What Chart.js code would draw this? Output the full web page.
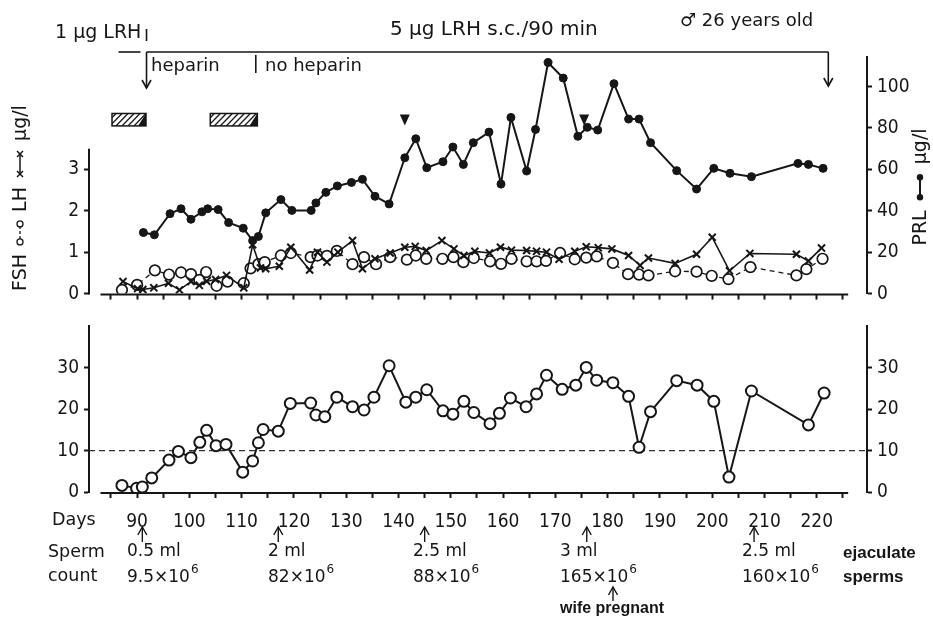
<!DOCTYPE html>
<html>
<head>
<meta charset="utf-8">
<script src="https://cdn.jsdelivr.net/npm/chart.js@4.4.1/dist/chart.umd.min.js"></script>
<style>
  html, body { margin: 0; padding: 0; background: #fff; }
  #wrap { position: relative; width: 933px; height: 626px; }
  canvas { position: absolute; left: 0; }
  #upper { top: 0; }
  #lower { top: 310px; }
</style>
</head>
<body>
<div id="wrap">
  <canvas id="upper" width="933" height="310"></canvas>
  <canvas id="lower" width="933" height="316"></canvas>
</div>
<script>
// ---- data (days of treatment) ----
const prlDays = [91.2, 93.3, 96.3, 98.4, 100.3, 102.4, 103.5, 105.5, 107.5, 110.3, 112.1, 113.2, 114.6, 117.5, 119.6, 123.3, 124.2, 126.1, 128.3, 131, 133.1, 135.5, 138.2, 141.2, 143.3, 145.4, 148.5, 150.4, 152.4, 154.3, 157.3, 159.6, 161.5, 164.5, 166.2, 168.6, 171.5, 174.3, 176.1, 178.1, 181.2, 184, 186, 188.2, 193.2, 197, 200.3, 203.4, 207.5, 216.4, 218.4, 221.2];
const prlValues = [29.5, 28.4, 38.6, 41, 35.9, 39.5, 41, 40.6, 34.3, 31.6, 25.6, 27.6, 39, 45.4, 40.2, 40.2, 43.8, 48.9, 52, 53.7, 55.2, 47, 43.3, 65.6, 74.8, 60.8, 63.7, 70.8, 62.4, 72.9, 78, 52.9, 85.1, 59.2, 79.3, 111.6, 104.1, 76, 80.3, 79, 101.4, 84.3, 84.3, 72.9, 59.4, 50.5, 60.5, 58.1, 56.5, 62.9, 62.4, 60.5];

const fshDays = [87.1, 90, 93.4, 96.1, 98.4, 100.3, 101.9, 103.2, 105.2, 107.3, 110.4, 111.7, 113.2, 114.4, 117.5, 119.4, 123.2, 124.5, 126.3, 128.2, 131.2, 133.4, 135.7, 138.4, 141.6, 143.3, 145.3, 148.4, 150.5, 152.4, 154.4, 157.5, 159.6, 161.6, 164.5, 166.4, 168.2, 170.9, 173.7, 175.9, 177.9, 181, 183.9, 186, 187.8, 192.9, 197, 199.9, 203.1, 207.3, 216.1, 218, 221.1];
const fshValues = [0.09, 0.21, 0.56, 0.46, 0.51, 0.47, 0.33, 0.52, 0.19, 0.29, 0.25, 0.61, 0.71, 0.76, 0.92, 0.98, 0.88, 0.92, 0.91, 1.03, 0.71, 0.88, 0.71, 0.88, 0.82, 0.92, 0.84, 0.84, 0.88, 0.76, 0.86, 0.78, 0.72, 0.84, 0.78, 0.78, 0.79, 0.98, 0.83, 0.87, 0.9, 0.74, 0.47, 0.46, 0.44, 0.54, 0.53, 0.43, 0.35, 0.64, 0.44, 0.59, 0.84];

const lhDays = [87.3, 90.1, 91.1, 93.2, 96, 98.1, 100.3, 101.9, 103.3, 105, 107.1, 110.4, 112.1, 113.6, 114.6, 117.2, 119.4, 123, 124.5, 126.3, 128.4, 131.2, 133.1, 135.5, 138.4, 141.2, 143.2, 145.3, 148.3, 150.6, 152.5, 154.6, 157.4, 159.5, 161.6, 164.5, 166.4, 168.3, 170.7, 173.7, 175.9, 178.2, 180.8, 184, 186.2, 187.8, 192.9, 197, 200, 203.3, 207.2, 216.1, 218.4, 220.9];
const lhValues = [0.29, 0.12, 0.1, 0.14, 0.25, 0.09, 0.29, 0.2, 0.3, 0.34, 0.44, 0.14, 1.18, 0.62, 0.6, 0.66, 1.12, 0.57, 1.0, 0.76, 1.0, 1.28, 0.6, 0.84, 0.98, 1.12, 1.14, 1.04, 1.28, 1.08, 0.92, 1.02, 0.98, 1.12, 1.05, 1.04, 1.02, 1.0, 0.83, 1.02, 1.13, 1.11, 1.08, 0.92, 0.68, 0.86, 0.73, 0.95, 1.36, 0.55, 0.97, 0.95, 0.79, 1.1];

const testDays = [87.1, 89.9, 91, 92.8, 96.1, 97.9, 100.3, 102, 103.3, 105.1, 107, 110.2, 112.1, 113.2, 114.1, 117, 119.3, 123.2, 124.2, 125.9, 128.2, 131.2, 133.4, 135.3, 138.2, 141.4, 143.3, 145.4, 148.5, 150.4, 152.5, 154.4, 157.5, 159.3, 161.4, 164.4, 166.4, 168.3, 171.3, 173.9, 175.9, 177.9, 181, 184, 186, 188.2, 193.2, 197.1, 200.3, 203.2, 207.5, 218.4, 221.4];
const testValues = [1.6, 0.9, 1.2, 3.4, 7.7, 9.8, 8.3, 12, 14.9, 11.2, 11.5, 4.8, 7.5, 11.9, 15.1, 14.7, 21.4, 21.5, 18.6, 18.2, 22.9, 20.6, 19.8, 22.9, 30.5, 21.7, 22.9, 24.7, 19.6, 18.8, 21.9, 19.2, 16.5, 19, 22.7, 20.6, 23.7, 28.2, 24.8, 25.8, 30.1, 27, 26.4, 23.1, 10.8, 19.4, 26.9, 25.8, 21.9, 3.6, 24.4, 16.2, 23.9];
const testNormalLimit = 10;

// axis ticks
const dayTicks = [];
for (let d = 85; d <= 225; d += 5) dayTicks.push(d);
const hormoneTicks = [0, 1, 2, 3];
const prlTicks = [0, 10, 20, 30, 40, 50, 60, 70, 80, 90, 100, 110];
const testTicks = [0, 5, 10, 15, 20, 25, 30, 35];

// annotations
const heparinBoxes = [[85.2, 91.7], [104, 113]];
const markerDays = [141.2, 175.5];
const lrhArrowDays = [91.8, 222.2];
const heparinEndDay = 112.7;
const spermDays = [91, 117, 145, 176, 208];
const spermVolumes = ['0.5 ml', '2 ml', '2.5 ml', '3 ml', '2.5 ml'];
const spermCounts = ['9.5\u00d710', '82\u00d710', '88\u00d710', '165\u00d710', '160\u00d710'];
const spermTextLeft = [127, 268, 413, 560, 742];

const xMin = 80.8, xMax = 229.6, axisFrom = 83, axisTo = 226;
const ink = '#161616';
const numFont = "'DejaVu Sans Condensed', sans-serif";
const txtFont = "'DejaVu Sans', sans-serif";

function pts(xs, ys) { return xs.map((x, i) => ({ x: x, y: ys[i] })); }

function line(ctx, x1, y1, x2, y2) {
  ctx.beginPath(); ctx.moveTo(x1, y1); ctx.lineTo(x2, y2); ctx.stroke();
}
function arrow(ctx, x, y1, y2) {
  // arrow from y1 to y2, head at y2
  const dir = y2 > y1 ? 1 : -1;
  line(ctx, x, y1, x, y2);
  ctx.beginPath();
  ctx.moveTo(x - 4.5, y2 - dir * 8); ctx.lineTo(x, y2); ctx.lineTo(x + 4.5, y2 - dir * 8);
  ctx.stroke();
}
function text(ctx, s, x, y, font, align) {
  ctx.font = font; ctx.textAlign = align || 'left'; ctx.textBaseline = 'middle';
  ctx.fillText(s, x, y);
}
function sci(ctx, base, exp, x, y, size) {
  text(ctx, base, x, y, size + 'px ' + txtFont);
  const w = ctx.measureText(base).width;
  text(ctx, exp, x + w + 1, y - size * 0.45, Math.round(size * 0.68) + 'px ' + txtFont);
}
// rotated axis title built from text and little legend symbols
function rotated(ctx, cx, cy, parts, font) {
  ctx.save();
  ctx.font = font;
  const ws = parts.map(p => typeof p === 'string' ? ctx.measureText(p).width : p.w);
  const total = ws.reduce((a, b) => a + b, 0);
  ctx.translate(cx, cy); ctx.rotate(-Math.PI / 2);
  ctx.textBaseline = 'middle'; ctx.textAlign = 'left';
  let pos = -total / 2;
  parts.forEach((p, i) => {
    if (typeof p === 'string') ctx.fillText(p, pos, 0); else p.draw(ctx, pos, 0);
    pos += ws[i];
  });
  ctx.restore();
}
const symDots = { w: 34, draw(ctx, x, y) {
  ctx.lineWidth = 2; line(ctx, x + 7, y - 1, x + 27, y - 1);
  [x + 7, x + 27].forEach(px => { ctx.beginPath(); ctx.arc(px, y - 1, 3.2, 0, Math.PI * 2); ctx.fill(); });
} };
const symCircles = { w: 30, draw(ctx, x, y) {
  ctx.lineWidth = 1.3; ctx.setLineDash([3, 2]); line(ctx, x + 9, y - 1, x + 21, y - 1); ctx.setLineDash([]);
  [x + 6, x + 24].forEach(px => { ctx.beginPath(); ctx.arc(px, y - 1, 3, 0, Math.PI * 2); ctx.stroke(); });
} };
const symCrosses = { w: 34, draw(ctx, x, y) {
  ctx.lineWidth = 1.5; line(ctx, x + 7, y - 1, x + 27, y - 1);
  [x + 7, x + 27].forEach(px => { line(ctx, px - 3, y - 4, px + 3, y + 2); line(ctx, px - 3, y + 2, px + 3, y - 4); });
} };

const upperDecor = {
  id: 'upperDecor',
  afterDraw(chart) {
    const ctx = chart.ctx, x = chart.scales.x, yH = chart.scales.yH, yP = chart.scales.yP;
    const area = chart.chartArea;
    ctx.save();
    ctx.strokeStyle = ink; ctx.fillStyle = ink; ctx.lineWidth = 2;
    // left axis only reaches 3.5, x axis shorter than the plot box
    line(ctx, area.left, yH.getPixelForValue(0) + 1, area.left, yH.getPixelForValue(3.5));
    line(ctx, x.getPixelForValue(axisFrom), area.bottom + 1, x.getPixelForValue(axisTo), area.bottom + 1);

    // treatment bar at the top
    const a1 = x.getPixelForValue(lrhArrowDays[0]), a2 = x.getPixelForValue(lrhArrowDays[1]);
    ctx.lineWidth = 1.6;
    line(ctx, a1 - 28, 52, a1 - 6, 52);
    line(ctx, a1, 52, a2, 52);
    line(ctx, a1, 29, a1, 41);
    arrow(ctx, a1, 52, 88);
    arrow(ctx, a2, 52, 86);
    const hx = x.getPixelForValue(heparinEndDay);
    line(ctx, hx, 55, hx, 73);
    text(ctx, '1 \u00b5g LRH', 55, 33, '19px ' + txtFont);
    text(ctx, '5 \u00b5g LRH s.c./90 min', 390, 30, '20px ' + txtFont);
    text(ctx, '\u2642 26 years old', 680, 21, '18px ' + txtFont);
    text(ctx, 'heparin', 151, 66, '18px ' + txtFont);
    text(ctx, 'no heparin', 265, 66, '18px ' + txtFont);

    // hatched heparin boxes
    const bt = yP.getPixelForValue(87), bb = yP.getPixelForValue(81);
    heparinBoxes.forEach(([d1, d2]) => {
      const l = x.getPixelForValue(d1), r = x.getPixelForValue(d2);
      ctx.lineWidth = 1.5;
      ctx.strokeRect(l, bt, r - l, bb - bt);
      ctx.save();
      ctx.beginPath(); ctx.rect(l, bt, r - l, bb - bt); ctx.clip();
      ctx.lineWidth = 1.3;
      for (let k = l - 20; k < r + 20; k += 6) line(ctx, k, bb, k + 12, bt);
      ctx.restore();
      ctx.beginPath(); ctx.moveTo(r, bt); ctx.lineTo(r, bb); ctx.lineTo(r - 8, bb); ctx.closePath(); ctx.fill();
    });
    // filled markers
    markerDays.forEach(d => {
      const px = x.getPixelForValue(d), top = yP.getPixelForValue(86.5);
      ctx.beginPath(); ctx.moveTo(px - 5, top); ctx.lineTo(px + 5, top); ctx.lineTo(px, top + 11); ctx.closePath(); ctx.fill();
    });

    // axis titles
    ctx.fillStyle = ink; ctx.strokeStyle = ink;
    rotated(ctx, 21, 198, ['FSH ', symCircles, ' LH ', symCrosses, ' \u00b5g/l'], '19px ' + txtFont);
    rotated(ctx, 921, 187, ['PRL ', symDots, ' \u00b5g/l'], '19px ' + txtFont);
    ctx.restore();
  }
};

const lowerDecor = {
  id: 'lowerDecor',
  afterDraw(chart) {
    const ctx = chart.ctx, x = chart.scales.x, area = chart.chartArea;
    const top = 310; // canvas offset in the page
    ctx.save();
    ctx.strokeStyle = ink; ctx.fillStyle = ink; ctx.lineWidth = 2;
    line(ctx, x.getPixelForValue(axisFrom), area.bottom + 1, x.getPixelForValue(axisTo), area.bottom + 1);

    rotated(ctx, 21, 432, ['Test. nmol/l'], '19px ' + txtFont);
    rotated(ctx, 921, 437, ['Test. nmol/l'], '19px ' + txtFont);

    text(ctx, 'Days', 52, 520 - top, '17.5px ' + txtFont);
    text(ctx, 'Sperm', 48, 552 - top, '17.5px ' + txtFont);
    text(ctx, 'count', 48, 576 - top, '17.5px ' + txtFont);

    ctx.lineWidth = 1.4;
    spermDays.forEach((d, i) => {
      arrow(ctx, x.getPixelForValue(d), 542 - top, 527 - top);
      text(ctx, spermVolumes[i], spermTextLeft[i], 552 - top, '17px ' + txtFont);
      sci(ctx, spermCounts[i], '6', spermTextLeft[i], 578 - top, 17);
    });
    const side = '600 17px "Liberation Sans", sans-serif';
    text(ctx, 'ejaculate', 843, 553 - top, side);
    text(ctx, 'sperms', 843, 577 - top, side);
    arrow(ctx, 613, 601 - top, 587 - top);
    text(ctx, 'wife pregnant', 612, 609 - top, '600 16px "Liberation Sans", sans-serif', 'center');
    ctx.restore();
  }
};

const tickFont = { family: numFont, size: 19 };
function yAxis(position, width, max, ticks, labelEvery) {
  return {
    position: position, min: 0, max: max,
    afterFit: s => { s.width = width; },
    afterBuildTicks: s => { s.ticks = ticks.map(v => ({ value: v })); },
    ticks: { font: tickFont, color: ink, padding: 5, callback: v => (v % labelEvery === 0 ? v : '') },
    grid: { drawOnChartArea: false, tickLength: 5, tickWidth: 2, tickColor: ink },
    border: { color: ink, width: 2 }
  };
}

new Chart(document.getElementById('upper'), {
  type: 'line',
  data: {
    datasets: [
      { label: 'PRL', data: pts(prlDays, prlValues), yAxisID: 'yP', borderColor: ink, borderWidth: 2,
        pointRadius: 4, pointBackgroundColor: ink, pointBorderColor: ink, pointBorderWidth: 1 },
      { label: 'LH', data: pts(lhDays, lhValues), yAxisID: 'yH', borderColor: ink, borderWidth: 1.6,
        pointStyle: 'crossRot', pointRadius: 5, pointBorderColor: ink, pointBorderWidth: 2 },
      { label: 'FSH', data: pts(fshDays, fshValues), yAxisID: 'yH', borderColor: ink, borderWidth: 1.3,
        borderDash: [5, 4], pointRadius: 5.3, pointBackgroundColor: '#fff', pointBorderColor: ink, pointBorderWidth: 1.7 }
    ]
  },
  options: {
    responsive: false, animation: false, events: [],
    layout: { padding: { top: 57, left: 0, right: 0, bottom: 0 } },
    plugins: { legend: { display: false }, tooltip: { enabled: false } },
    scales: {
      x: {
        type: 'linear', min: xMin, max: xMax,
        afterFit: s => { s.height = 13; },
        afterBuildTicks: s => { s.ticks = dayTicks.map(v => ({ value: v })); },
        ticks: { display: false },
        grid: { drawOnChartArea: false, tickLength: 6, tickWidth: 2, tickColor: ink },
        border: { display: false }
      },
      yH: Object.assign(yAxis('left', 89, 240 / 42, hormoneTicks, 1), { border: { display: false } }),
      yP: yAxis('right', 66, 240 / 2.1, prlTicks, 20)
    }
  },
  plugins: [upperDecor]
});

new Chart(document.getElementById('lower'), {
  type: 'line',
  data: {
    datasets: [
      { label: 'Test', data: pts(testDays, testValues), yAxisID: 'yT', borderColor: ink, borderWidth: 2,
        pointRadius: 5.5, pointBackgroundColor: '#fff', pointBorderColor: ink, pointBorderWidth: 2 },
      { label: 'normal', data: [{ x: xMin, y: testNormalLimit }, { x: xMax, y: testNormalLimit }], yAxisID: 'yT',
        borderColor: '#333', borderWidth: 1.2, borderDash: [6, 4], pointRadius: 0 }
    ]
  },
  options: {
    responsive: false, animation: false, events: [],
    layout: { padding: { top: 11, left: 0, right: 0, bottom: 0 } },
    plugins: { legend: { display: false }, tooltip: { enabled: false } },
    scales: {
      x: {
        type: 'linear', min: xMin, max: xMax,
        afterFit: s => { s.height = 134; },
        afterBuildTicks: s => { s.ticks = dayTicks.map(v => ({ value: v })); },
        ticks: { font: tickFont, color: ink, padding: 13, maxRotation: 0, autoSkip: false,
                 callback: v => (v % 10 === 0 ? v : '') },
        grid: { drawOnChartArea: false, tickLength: 6, tickWidth: 2, tickColor: ink },
        border: { display: false }
      },
      yT: yAxis('left', 89, 40, testTicks, 10),
      yT2: yAxis('right', 66, 40, testTicks, 10)
    }
  },
  plugins: [lowerDecor]
});
</script>
</body>
</html>
